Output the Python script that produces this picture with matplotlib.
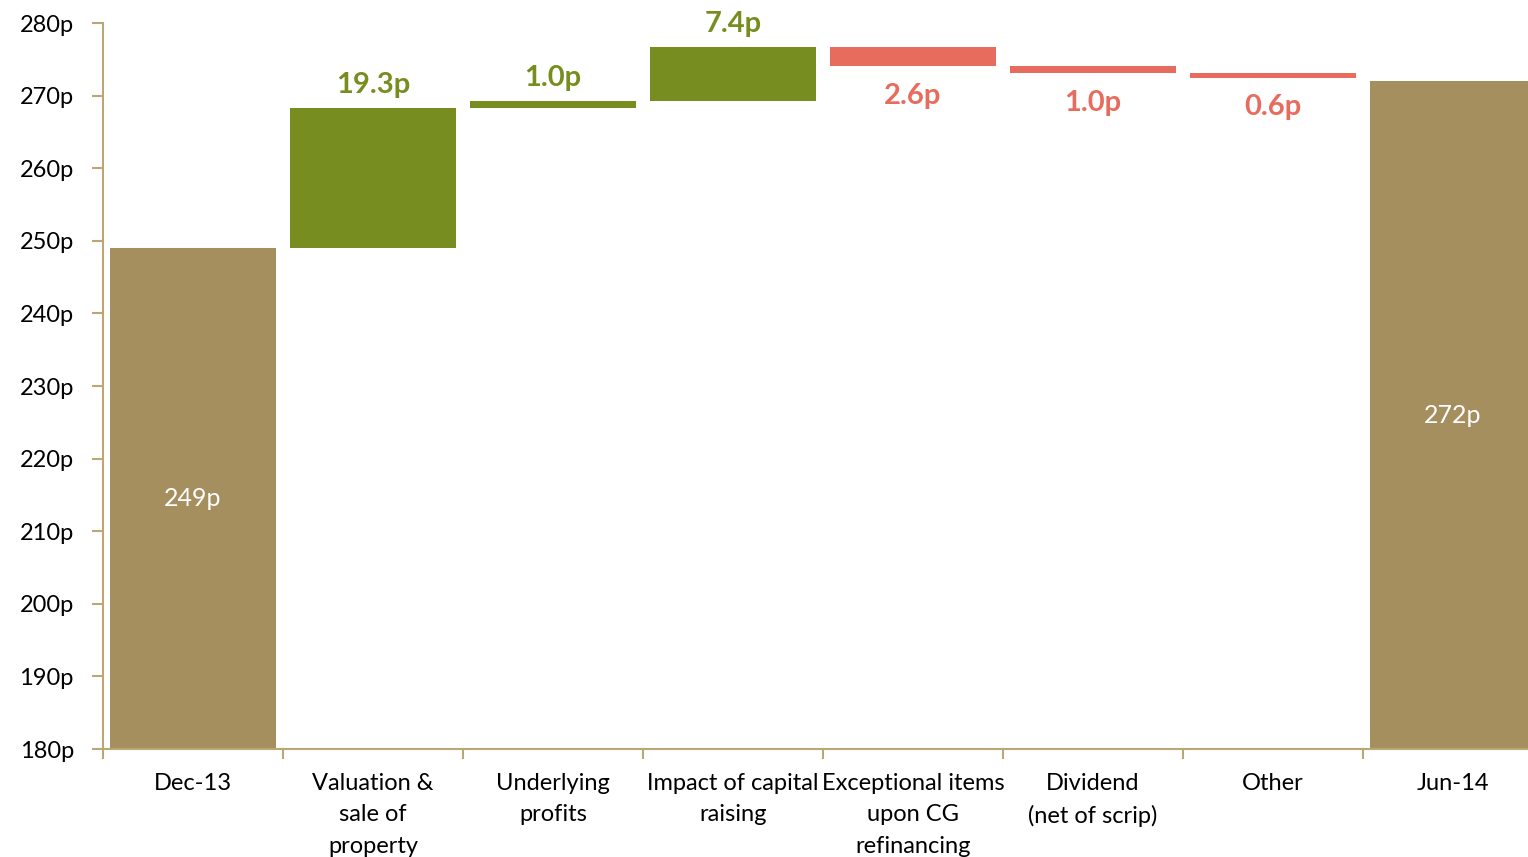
import numpy as np
import matplotlib.pyplot as plt
from matplotlib.ticker import MultipleLocator, FuncFormatter

plt.rcParams['font.family'] = ['Lato', 'DejaVu Sans']

categories = ['Dec-13', 'Valuation &\nsale of\nproperty', 'Underlying\nprofits',
              'Impact of capital\nraising', 'Exceptional items\nupon CG\nrefinancing',
              'Dividend\n(net of scrip)', 'Other', 'Jun-14']
start_value = 249
end_value = 272
changes = [19.3, 1.0, 7.4, -2.6, -1.0, -0.6]

TAN = '#A68F5F'
GREEN = '#788D1F'
RED = '#E86C5D'
AXIS = '#BBA774'

fig = plt.figure(figsize=(15.28, 8.57), dpi=100)
ax = fig.add_axes([0.0674, 0.126, 0.9424, 0.847])

x = np.arange(len(categories))
width = 0.917
base = 180

# opening and closing totals
ax.bar(x[0], start_value - base, bottom=base, width=width, color=TAN, linewidth=0)
ax.bar(x[-1], end_value - base, bottom=base, width=width, color=TAN, linewidth=0)
ax.text(x[0], (start_value + base) / 2, f'{start_value}p', ha='center', va='center',
        color='white', fontsize=18)
ax.text(x[-1], (end_value + base) / 2, f'{end_value}p', ha='center', va='center',
        color='white', fontsize=18)

# floating bars for each movement
level = start_value
for i, delta in enumerate(changes, start=1):
    color = GREEN if delta > 0 else RED
    bottom = level if delta > 0 else level + delta
    ax.bar(x[i], abs(delta), bottom=bottom, width=width, color=color, linewidth=0)
    if delta > 0:
        ax.annotate(f'{delta:.1f}p', (x[i], level + delta), xytext=(0, 7),
                    textcoords='offset points', ha='center', va='bottom',
                    color=color, fontsize=21, fontweight='bold')
    else:
        ax.annotate(f'{abs(delta):.1f}p', (x[i], level + delta), xytext=(0, -12),
                    textcoords='offset points', ha='center', va='top',
                    color=color, fontsize=21, fontweight='bold')
    level += delta

ax.set_xlim(-0.5, len(categories) - 0.5)
ax.set_ylim(180, 280)
ax.yaxis.set_major_locator(MultipleLocator(10))
ax.yaxis.set_major_formatter(FuncFormatter(lambda v, p: f'{v:.0f}p'))

# category labels centred, ticks between categories
ax.set_xticks(x)
ax.set_xticklabels(categories, fontsize=17, linespacing=1.62)
ax.set_xticks(np.arange(len(categories) + 1) - 0.5, minor=True)
ax.tick_params(axis='x', which='major', length=0, pad=17)
ax.tick_params(axis='x', which='minor', length=7, width=1.5, color=AXIS, direction='out')
ax.tick_params(axis='y', length=8, width=1.5, color=AXIS, labelsize=17, pad=13)

for side in ['top', 'right']:
    ax.spines[side].set_visible(False)
for side in ['left', 'bottom']:
    ax.spines[side].set_color(AXIS)
    ax.spines[side].set_linewidth(1.5)

fig.savefig('out.png', dpi=100)
